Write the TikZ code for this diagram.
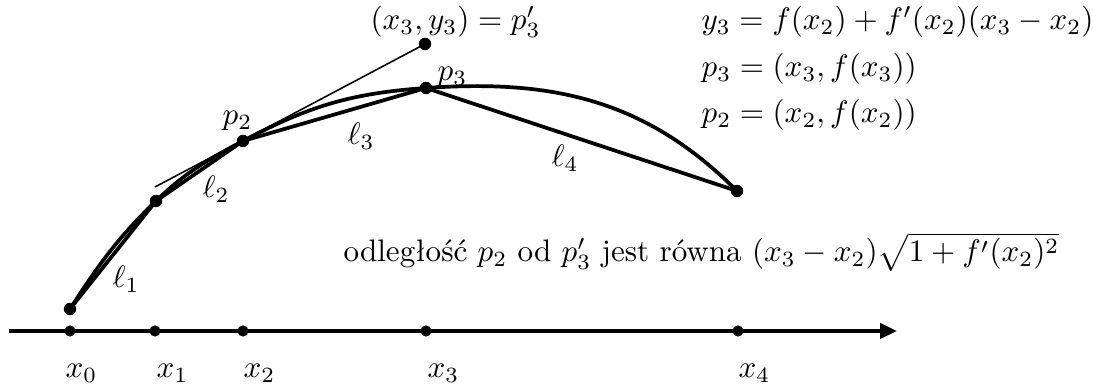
\documentclass[tikz,border=0pt]{standalone}
\usepackage{amsmath}
\usetikzlibrary{arrows.meta}

\begin{document}
\begin{tikzpicture}[
  x=0.0113cm, y=0.0113cm,
  graph/.style={line width=1.2pt, line cap=round},
  chord/.style={line width=1.2pt, line cap=round},
  tangent/.style={line width=0.5pt},
  axis/.style={line width=1.2pt, -{Triangle[length=1.9mm, width=1.7mm]}},
  lbl/.style={inner sep=0pt, anchor=base west}
]
  \useasboundingbox (0,0) rectangle (1093,385);

  % points on the axis
  \coordinate (axs) at (9,54);
  \coordinate (axe) at (897,54);
  \coordinate (x0) at (70,54);
  \coordinate (x1) at (155,54);
  \coordinate (x2) at (243,54);
  \coordinate (x3) at (426,54);
  \coordinate (x4) at (738,54);

  % points on the graph
  \coordinate (p0) at (70,76);
  \coordinate (p1) at (156,184);
  \coordinate (p2) at (243,244);
  \coordinate (p3) at (426,297);
  \coordinate (p4) at (737,194);
  \coordinate (q3) at (425,341);
  \coordinate (tg) at (155,198);

  % axis
  \draw[axis] (axs) -- (axe);

  % graph of f
  \draw[graph] (p0) to[out=57,in=224] (p1) to[out=44,in=208] (p2)
    to[out=28,in=184] (p3) to[out=4,in=135] (p4);

  % chords l_1 ... l_4
  \draw[chord] (p0) -- (p1) -- (p2) -- (p3) -- (p4);

  % tangent at p_2
  \draw[tangent] (tg) -- (q3);

  \foreach \p in {x0,x1,x2,x3,x4}
    \fill (\p) circle[radius=1.8pt];
  \foreach \p in {p0,p1,p2,p3,p4,q3}
    \fill (\p) circle[radius=2pt];

  % labels
  \node[lbl] (lx0) at (65,7) {$x_0$};
  \node[lbl] (lx1) at (156,7) {$x_1$};
  \node[lbl] (lx2) at (243,7) {$x_2$};
  \node[lbl] (lx3) at (427,7) {$x_3$};
  \node[lbl] (lx4) at (738,7) {$x_4$};

  \node[lbl] (lp2) at (222,260) {$p_2$};
  \node[lbl] (lp3) at (437,304) {$p_3$};
  \node[lbl] (lq3) at (370,355) {$(x_3,y_3)=p_3'$};

  \node[lbl] (l1) at (112,97) {$\ell_1$};
  \node[lbl] (l2) at (202,187) {$\ell_2$};
  \node[lbl] (l3) at (347,240) {$\ell_3$};
  \node[lbl] (l4) at (551,218) {$\ell_4$};

  \node[lbl] (eqy) at (701,355) {$y_3=f(x_2)+f'(x_2)(x_3-x_2)$};
  \node[lbl] (eqp3) at (701,308) {$p_3=(x_3,f(x_3))$};
  \node[lbl] (eqp2) at (701,262) {$p_2=(x_2,f(x_2))$};

  \node[lbl] (dist) at (343,123)
    {odległość $p_2$ od $p_3'$ jest równa $(x_3-x_2)\sqrt{1+f'(x_2)^2}$};

\end{tikzpicture}
\end{document}
